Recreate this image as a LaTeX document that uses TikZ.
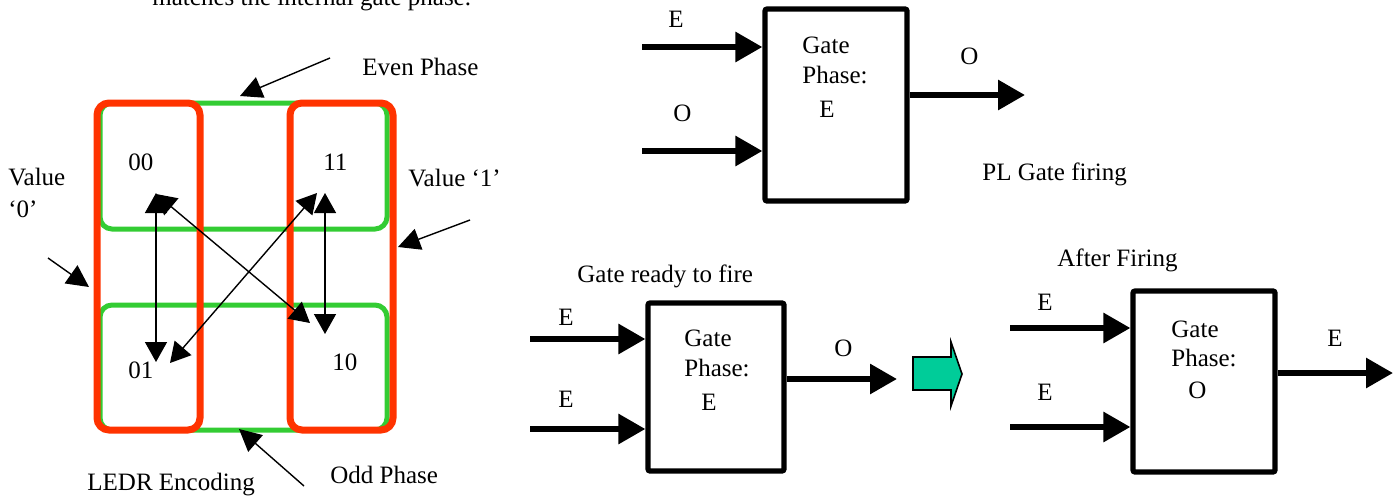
\documentclass[tikz,border=0pt]{standalone}
\usepackage{fontspec}
\setmainfont{Liberation Serif}
\usetikzlibrary{arrows.meta,positioning,calc}
\definecolor{ledrRed}{RGB}{255,51,0}
\definecolor{ledrGreen}{RGB}{51,204,51}
\definecolor{fireTeal}{RGB}{0,204,153}

\begin{document}
\begin{tikzpicture}[x=0.5pt, y=-0.5pt,
    every node/.style={font=\fontsize{12.5}{15}\selectfont},
    lbl/.style={anchor=base west, inner sep=0pt},
    valuebox/.style={draw=ledrRed, line width=3.5pt, rounded corners=6pt},
    phasebox/.style={draw=ledrGreen, line width=2.5pt, rounded corners=6pt},
    pointer/.style={-{Triangle[length=11pt,width=11pt]}, line width=0.7pt},
    trans/.style={{Triangle[length=10pt,width=11pt]}-{Triangle[length=10pt,width=11pt]}, line width=0.7pt},
    gatebox/.style={draw, line width=2.6pt, rounded corners=1pt, inner sep=0pt},
    wire/.style={-{Triangle[length=13.5pt,width=14.5pt]}, line width=3pt}]
    \useasboundingbox (0,0) rectangle (1397,498);
    % Clipped caption line at the very top
    \node[lbl] (caption) at (152,5) {matches the internal gate phase.};

    % LEDR encoding: phase boxes (green) and value boxes (red)
    \draw[phasebox] (100,103) rectangle (387,229);
    \draw[phasebox] (100,305) rectangle (387,430);
    \draw[valuebox] (97,103) rectangle (200,430);
    \draw[valuebox] (290,103) rectangle (393,430);
    % Code words
    \node[lbl] (c00) at (128,170) {00};
    \node[lbl] (c11) at (323,170) {11};
    \node[lbl] (c01) at (128,378) {01};
    \node[lbl] (c10) at (332,370) {10};
    % Transitions between code words
    \coordinate (t00a) at (156,193); \coordinate (t01a) at (156,362);
    \coordinate (t11a) at (325,193); \coordinate (t10a) at (325,334);
    \coordinate (t00b) at (156,194); \coordinate (t10b) at (310,323);
    \coordinate (t11b) at (317,193); \coordinate (t01b) at (170,363);
    \draw[trans] (t00a) -- (t01a);
    \draw[trans] (t11a) -- (t10a);
    \draw[trans] (t00b) -- (t10b);
    \draw[trans] (t11b) -- (t01b);
    % Labels with pointers
    \node[lbl] (even) at (362,75) {Even Phase};
    \node[lbl] (odd) at (330,483) {Odd Phase};
    \node[lbl] (ledr) at (87,490) {LEDR Encoding};
    \node[lbl] (val0) at (8,185) {Value};
    \node[lbl] (val0b) at (8,217) {‘0’};
    \node[lbl] (val1) at (408,186) {Value ‘1’};
    \coordinate (evenS) at (330,58);  \coordinate (evenE) at (240,96);
    \coordinate (val1S) at (470,220); \coordinate (val1E) at (398,247);
    \coordinate (val0S) at (48,258);  \coordinate (val0E) at (89,287);
    \coordinate (oddS) at (304,486);  \coordinate (oddE) at (239,429);
    \foreach \p in {even,val1,val0,odd} {
      \draw[pointer] (\p S) -- (\p E);
    }

    % PL gate firing
    \node[gatebox, minimum width=71pt, minimum height=96pt] (gA) at (836,105) {};
    \coordinate (gAin1) at (642,47);
    \coordinate (gAin2) at (642,151);
    \coordinate (gAout) at (1025,95);
    \draw[wire] (gAin1) -- (gAin1 -| gA.west);
    \draw[wire] (gAin2) -- (gAin2 -| gA.west);
    \draw[wire] (gAout -| gA.east) -- (gAout);
    \node[lbl] (gAe) at (668,27) {E};
    \node[lbl] (gAo) at (673,121) {O};
    \node[lbl] (gAq) at (960,64) {O};
    \node[lbl] (gAt1) at (802,53) {Gate};
    \node[lbl] (gAt2) at (802,83) {Phase:};
    \node[lbl] (gAt3) at (819,117) {E};
    \node[lbl] (gAcap) at (982,180) {PL Gate firing};

    % Gate ready to fire
    \node[gatebox, minimum width=68pt, minimum height=84pt] (gB) at (716,387) {};
    \coordinate (gBin1) at (530,339);
    \coordinate (gBin2) at (530,429);
    \coordinate (gBout) at (897,379);
    \draw[wire] (gBin1) -- (gBin1 -| gB.west);
    \draw[wire] (gBin2) -- (gBin2 -| gB.west);
    \draw[wire] (gBout -| gB.east) -- (gBout);
    \node[lbl] (gBe1) at (558,325) {E};
    \node[lbl] (gBe2) at (558,407) {E};
    \node[lbl] (gBq) at (834,356) {O};
    \node[lbl] (gBt1) at (684,346) {Gate};
    \node[lbl] (gBt2) at (684,376) {Phase:};
    \node[lbl] (gBt3) at (701,410) {E};
    \node[lbl] (gBcap) at (577,282) {Gate ready to fire};

    % Block arrow between the two states
    \draw[fill=fireTeal, line width=0.8pt, line join=miter]
      (913,357) -- (951,357) -- (951,342) -- (962,374) -- (951,406) -- (951,390) -- (913,390) -- cycle;

    % After firing
    \node[gatebox, minimum width=71pt, minimum height=90.5pt] (gC) at (1204,381.5) {};
    \coordinate (gCin1) at (1010,328);
    \coordinate (gCin2) at (1010,427);
    \coordinate (gCout) at (1393,373);
    \draw[wire] (gCin1) -- (gCin1 -| gC.west);
    \draw[wire] (gCin2) -- (gCin2 -| gC.west);
    \draw[wire] (gCout -| gC.east) -- (gCout);
    \node[lbl] (gCe1) at (1037,310) {E};
    \node[lbl] (gCe2) at (1037,400) {E};
    \node[lbl] (gCq) at (1327,346) {E};
    \node[lbl] (gCt1) at (1171,337) {Gate};
    \node[lbl] (gCt2) at (1171,366) {Phase:};
    \node[lbl] (gCt3) at (1188,398) {O};
    \node[lbl] (gCcap) at (1057,266) {After Firing};
  \end{tikzpicture}
\end{document}
